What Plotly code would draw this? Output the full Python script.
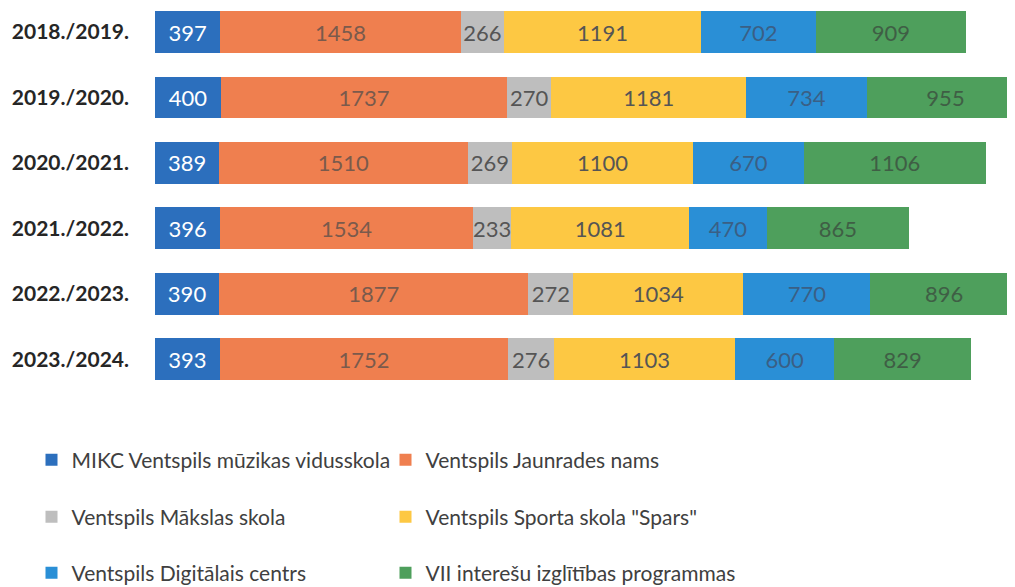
import plotly.graph_objects as go

years = ["2018./2019.", "2019./2020.", "2020./2021.", "2021./2022.", "2022./2023.", "2023./2024."]
series_names = [
    "MIKC Ventspils mūzikas vidusskola",
    "Ventspils Jaunrades nams",
    "Ventspils Mākslas skola",
    "Ventspils Sporta skola \"Spars\"",
    "Ventspils Digitālais centrs",
    "VII interešu izglītības programmas",
]
mikc = [397, 400, 389, 396, 390, 393]
jaunrades = [1458, 1737, 1510, 1534, 1877, 1752]
makslas = [266, 270, 269, 233, 272, 276]
sporta = [1191, 1181, 1100, 1081, 1034, 1103]
digitalais = [702, 734, 670, 470, 770, 600]
vii = [909, 955, 1106, 865, 896, 829]

values = [mikc, jaunrades, makslas, sporta, digitalais, vii]
colors = ["#2C6FBD", "#EF7F4F", "#BEBEBE", "#FDC843", "#2A8FD6", "#4E9F5C"]
text_colors = ["#FFFFFF", "#7A5A4C", "#555555", "#555555", "#3A5F85", "#3F5E45"]
legend_ids = ["legend", "legend", "legend2", "legend2", "legend3", "legend3"]

fig = go.Figure()
for name, vals, col, tcol, lg in zip(series_names, values, colors, text_colors, legend_ids):
    fig.add_trace(go.Bar(
        y=years, x=vals, name=name, orientation="h",
        marker=dict(color=col, line=dict(width=0)),
        text=vals, texttemplate="%{text}", textposition="inside",
        insidetextanchor="middle", textangle=0,
        textfont=dict(color=tcol, size=22, family="Lato"),
        legend=lg,
    ))

legend_common = dict(
    orientation="h", xref="container", yref="container",
    xanchor="left", yanchor="middle", traceorder="normal",
    font=dict(size=21, color="#404040", family="Lato"),
    entrywidth=309, entrywidthmode="pixels",
    itemwidth=30, bgcolor="rgba(0,0,0,0)",
)

fig.update_layout(
    width=1015, height=587,
    paper_bgcolor="white", plot_bgcolor="white",
    barmode="stack", bargap=0.36,
    margin=dict(l=147, r=0, t=0, b=203, autoexpand=False),
    showlegend=True,
    uniformtext=dict(mode="show", minsize=22),
    xaxis=dict(range=[0, 5270], showgrid=False, zeroline=False, automargin=False,
               showticklabels=False, showline=False, fixedrange=True),
    yaxis=dict(range=[5.5, -0.367], showgrid=False, zeroline=False, showline=False,
               ticks="", ticklabelstandoff=25, automargin=False,
               tickfont=dict(size=21, color="#262626", family="Lato", weight="bold")),
    legend=dict(x=23.5 / 1015, y=1 - 452 / 587, **legend_common),
    legend2=dict(x=23.5 / 1015, y=1 - 509 / 587, **legend_common),
    legend3=dict(x=23.5 / 1015, y=1 - 565 / 587, **legend_common),
)

fig.write_html("out.html")
